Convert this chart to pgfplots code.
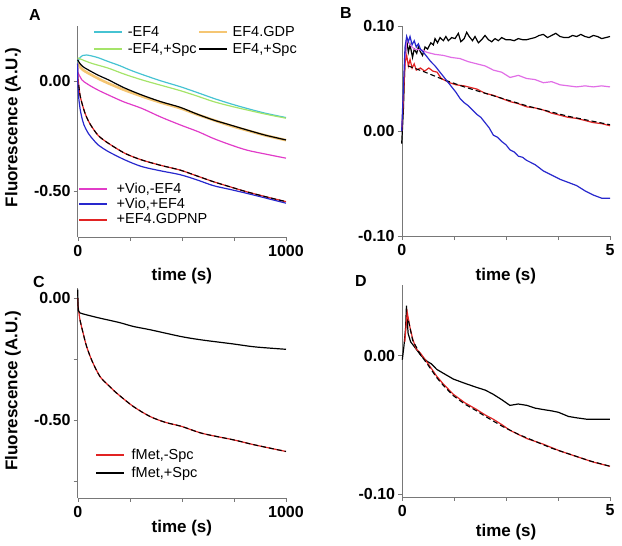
\documentclass[border=0pt]{standalone}
\usepackage{fontspec}
\setmainfont{Liberation Sans}
\usepackage{pgfplots}
\pgfplotsset{compat=1.18}

\definecolor{cyanc}{RGB}{70,195,210}
\definecolor{greenc}{RGB}{165,228,105}
\definecolor{orangec}{RGB}{245,198,115}
\definecolor{magc}{RGB}{225,60,200}
\definecolor{violc}{RGB}{225,110,230}
\definecolor{bluec}{RGB}{40,40,205}
\definecolor{redc}{RGB}{225,35,35}
\definecolor{axc}{RGB}{120,120,120}

\pgfplotsset{
  panel/.style={
    scale only axis, anchor=south west,
    axis lines=left, axis line style={axc, -}, tick style={axc},
    tick align=outside, major tick length=4pt,
    tick label style={font=\fontsize{16}{16}\selectfont\bfseries},
    yticklabel style={inner sep=1pt, xshift=-2pt},
    xticklabel style={inner sep=1pt, yshift=-3pt},
    label style={font=\fontsize{17}{17}\selectfont\bfseries},
    ylabel style={anchor=center, rotate=0},
    xlabel style={anchor=center},
    clip=false,
    every axis plot/.append style={line width=1.2pt},
    legend image code/.code={\draw[#1, line width=2pt] (0pt,0pt) -- (28pt,0pt);},
    legend cell align=left,
  },
  fitline/.style={black, dashed, dash pattern=on 5pt off 3pt, line width=1.1pt},
}

\begin{document}
\begin{tikzpicture}
\useasboundingbox (0,0) rectangle (622pt,-546pt);

% ---------------- A ----------------
\begin{axis}[panel, at={(77.7pt,-237pt)}, width=208.3pt, height=211pt,
  xmin=0, xmax=1000, ymin=-0.711, ymax=0.25,
  xtick={0,250,500,750,1000}, xticklabels={0,,,,1000},
  ytick={0,-0.5}, yticklabels={0.00,-0.50},
  xlabel={time (s)}, xlabel style={at={(axis description cs:0.5,-0.185)}},
  ylabel={Fluorescence (A.U.)}, ylabel style={at={(axis description cs:-0.311,0.52)}},
  legend columns=2,
  legend style={at={(axis description cs:0.074,1.005)}, anchor=north west, draw=none, fill=none,
    inner sep=0pt, font=\fontsize{14.5}{14.5}\selectfont, row sep=2pt,
    nodes={inner sep=1.5pt},
    /tikz/every odd column/.append style={column sep=3pt},
    /tikz/every even column/.append style={column sep=0pt}},
]
\addplot[cyanc, smooth] coordinates {(0,0.085) (10,0.105) (25,0.116) (43,0.118) (70,0.113) (100,0.105) (147,0.088) (200,0.07) (250,0.05) (307,0.03) (400,0.0) (491,-0.026) (580,-0.055) (651,-0.079) (730,-0.103) (811,-0.125) (900,-0.147) (1000,-0.167)};
\addlegendentry{-EF4}
\addplot[orangec, smooth, line width=2.6pt] coordinates {(0,0.08) (10,0.065) (25,0.05) (51,0.035) (100,0.01) (147,-0.011) (220,-0.04) (307,-0.07) (400,-0.099) (491,-0.124) (570,-0.152) (651,-0.178) (730,-0.203) (811,-0.225) (900,-0.248) (1000,-0.27)};
\addlegendentry{EF4.GDP}
\addplot[greenc, smooth] coordinates {(0,0.105) (20,0.097) (67,0.08) (147,0.058) (220,0.032) (307,0.005) (400,-0.02) (491,-0.044) (570,-0.068) (651,-0.094) (730,-0.114) (811,-0.132) (900,-0.151) (1000,-0.17)};
\addlegendentry{-EF4,+Spc}
\addplot[black, smooth] coordinates {(0,0.095) (10,0.08) (25,0.065) (51,0.05) (100,0.025) (147,0.005) (220,-0.03) (307,-0.064) (400,-0.095) (491,-0.12) (570,-0.15) (651,-0.178) (730,-0.2) (811,-0.223) (900,-0.247) (1000,-0.269)};
\addlegendentry{EF4,+Spc}
\addplot[magc, smooth, forget plot] coordinates {(0,0.04) (20,0.005) (40,-0.01) (67,-0.026) (100,-0.043) (147,-0.064) (220,-0.095) (307,-0.125) (400,-0.165) (491,-0.2) (580,-0.232) (651,-0.262) (730,-0.29) (811,-0.315) (900,-0.333) (1000,-0.352)};
\addplot[redc, smooth, forget plot] coordinates {(0,0.06) (0.5,0.03) (2,0.01) (5,-0.02) (11,-0.064) (20,-0.1) (35,-0.147) (50,-0.18) (67,-0.208) (100,-0.25) (147,-0.284) (227,-0.33) (307,-0.36) (400,-0.385) (491,-0.406) (570,-0.432) (651,-0.459) (730,-0.482) (811,-0.505) (900,-0.527) (1000,-0.55)};
\addplot[bluec, smooth, forget plot] coordinates {(0,0.08) (0.5,0.0) (3,-0.05) (6,-0.087) (12,-0.13) (19,-0.163) (30,-0.2) (51,-0.239) (75,-0.268) (99,-0.292) (147,-0.322) (227,-0.36) (307,-0.39) (400,-0.41) (491,-0.427) (570,-0.45) (651,-0.477) (730,-0.494) (811,-0.512) (900,-0.533) (1000,-0.557)};
\addplot[fitline, smooth, forget plot] coordinates {(5,-0.02) (11,-0.064) (20,-0.1) (35,-0.147) (50,-0.18) (67,-0.208) (100,-0.25) (147,-0.284) (227,-0.33) (307,-0.36) (400,-0.385) (491,-0.406) (570,-0.432) (651,-0.459) (730,-0.482) (811,-0.505) (900,-0.527) (1000,-0.55)};
\end{axis}
% second legend of panel A
\begin{axis}[panel, at={(77.7pt,-237pt)}, width=208.3pt, height=211pt, hide axis,
  xmin=0, xmax=1000, ymin=-0.711, ymax=0.25,
  legend style={at={(axis description cs:0.0015,0.265)}, anchor=north west, draw=none, fill=none,
    inner sep=0pt, font=\fontsize{14.5}{14.5}\selectfont, row sep=0.5pt,
    nodes={inner sep=1.5pt},
    /tikz/every odd column/.append style={column sep=7pt}},
]
\addlegendimage{magc}\addlegendentry{+Vio,-EF4}
\addlegendimage{bluec}\addlegendentry{+Vio,+EF4}
\addlegendimage{redc}\addlegendentry{+EF4.GDPNP}
\end{axis}

% ---------------- B ----------------
\begin{axis}[panel, at={(401.7pt,-236pt)}, width=208.3pt, height=210pt,
  xmin=0, xmax=5, ymin=-0.10, ymax=0.10,
  xtick={0,1.25,2.5,3.75,5}, xticklabels={0,,,,5},
  ytick={0.1,0,-0.1}, yticklabels={0.10,0.00,-0.10},
  xlabel={time (s)}, xlabel style={at={(axis description cs:0.5,-0.19)}},
]
\addplot[black] coordinates {(0,-0.012) (0.04,0.02) (0.08,0.07) (0.12,0.087) (0.16,0.075) (0.2,0.082) (0.26,0.07) (0.3,0.078) (0.36,0.074) (0.4,0.08) (0.44,0.076) (0.5,0.072) (0.56,0.08) (0.62,0.078) (0.7,0.084) (0.76,0.082) (0.8,0.088) (0.86,0.084) (0.92,0.089) (1.0,0.086) (1.06,0.09) (1.12,0.086) (1.2,0.089) (1.28,0.088) (1.36,0.093) (1.42,0.085) (1.5,0.088) (1.56,0.094) (1.62,0.09) (1.7,0.086) (1.76,0.09) (1.84,0.084) (1.92,0.087) (2.0,0.091) (2.08,0.087) (2.16,0.085) (2.24,0.088) (2.32,0.086) (2.4,0.089) (2.5,0.087) (2.6,0.087) (2.7,0.086) (2.8,0.088) (2.9,0.087) (3.0,0.087) (3.1,0.088) (3.2,0.089) (3.3,0.091) (3.4,0.092) (3.5,0.089) (3.6,0.091) (3.7,0.093) (3.8,0.09) (3.9,0.089) (4.0,0.089) (4.1,0.091) (4.2,0.09) (4.3,0.092) (4.4,0.09) (4.5,0.089) (4.6,0.091) (4.7,0.09) (4.8,0.088) (4.9,0.089) (5.0,0.09)};
\addplot[violc] coordinates {(0.08,0.06) (0.12,0.088) (0.2,0.082) (0.3,0.078) (0.5,0.077) (0.6,0.075) (0.8,0.073) (1.0,0.072) (1.2,0.07) (1.4,0.069) (1.6,0.066) (1.8,0.064) (2.0,0.062) (2.2,0.058) (2.4,0.056) (2.6,0.051) (2.8,0.053) (3.0,0.05) (3.2,0.049) (3.4,0.046) (3.6,0.047) (3.8,0.044) (4.0,0.043) (4.2,0.042) (4.4,0.043) (4.6,0.042) (4.8,0.043) (5.0,0.042)};
\addplot[redc] coordinates {(0,0.0) (0.04,0.03) (0.08,0.065) (0.12,0.072) (0.16,0.062) (0.2,0.068) (0.25,0.06) (0.3,0.064) (0.35,0.058) (0.45,0.06) (0.55,0.057) (0.65,0.06) (0.75,0.057) (0.85,0.056) (0.95,0.05) (1.05,0.048) (1.15,0.046) (1.3,0.044) (1.5,0.043) (1.7,0.041) (1.8,0.04) (2.0,0.036) (2.2,0.034) (2.4,0.031) (2.6,0.028) (2.8,0.026) (3.0,0.023) (3.2,0.022) (3.4,0.02) (3.6,0.017) (3.8,0.015) (4.0,0.013) (4.2,0.012) (4.4,0.01) (4.6,0.008) (4.8,0.007) (5.0,0.005)};
\addplot[fitline] coordinates {(0.15,0.062) (0.5,0.057) (1.0,0.049) (1.5,0.042) (2.0,0.036) (2.5,0.03) (3.0,0.024) (3.5,0.019) (4.0,0.014) (4.5,0.01) (5.0,0.006)};
\addplot[bluec] coordinates {(0,0.0) (0.04,0.04) (0.08,0.08) (0.12,0.09) (0.16,0.085) (0.2,0.09) (0.25,0.082) (0.3,0.086) (0.35,0.08) (0.4,0.083) (0.45,0.078) (0.5,0.076) (0.6,0.071) (0.7,0.066) (0.8,0.062) (0.9,0.057) (1.0,0.052) (1.1,0.047) (1.2,0.042) (1.3,0.037) (1.4,0.031) (1.5,0.027) (1.6,0.024) (1.7,0.02) (1.8,0.016) (1.9,0.013) (2.0,0.008) (2.1,0.003) (2.2,-0.004) (2.3,-0.006) (2.4,-0.01) (2.5,-0.013) (2.6,-0.018) (2.7,-0.02) (2.8,-0.024) (2.9,-0.025) (3.0,-0.028) (3.2,-0.032) (3.4,-0.038) (3.6,-0.042) (3.8,-0.046) (4.0,-0.049) (4.2,-0.052) (4.4,-0.057) (4.6,-0.061) (4.8,-0.064) (5.0,-0.064)};
\end{axis}

% ---------------- C ----------------
\begin{axis}[panel, at={(77.7pt,-497.7pt)}, width=208.3pt, height=209.7pt,
  xmin=0, xmax=1000, ymin=-0.82, ymax=0.042,
  xtick={0,250,500,750,1000}, xticklabels={0,,,,1000},
  ytick={0,-0.25,-0.5,-0.75}, yticklabels={0.00,,-0.50,},
  xlabel={time (s)}, xlabel style={at={(axis description cs:0.5,-0.146)}},
  ylabel={Fluorescence (A.U.)}, ylabel style={at={(axis description cs:-0.311,0.51)}},
  legend style={at={(axis description cs:0.083,0.24)}, anchor=north west, draw=none, fill=none,
    inner sep=0pt, font=\fontsize{14.5}{14.5}\selectfont, row sep=3pt,
    nodes={inner sep=1.5pt},
    /tikz/every odd column/.append style={column sep=5pt}},
]
\addplot[redc, smooth] coordinates {(0,0.0) (3,-0.04) (11,-0.089) (25,-0.14) (43,-0.199) (70,-0.26) (107,-0.322) (150,-0.36) (187,-0.39) (267,-0.445) (347,-0.486) (420,-0.51) (499,-0.527) (600,-0.556) (747,-0.582) (850,-0.603) (1000,-0.63)};
\addlegendentry{fMet,-Spc}
\addplot[black, smooth] coordinates {(0,0.035) (1,0.0) (3,-0.05) (10,-0.06) (50,-0.07) (107,-0.082) (200,-0.1) (267,-0.116) (350,-0.13) (499,-0.158) (600,-0.172) (747,-0.188) (850,-0.2) (1000,-0.21)};
\addlegendentry{fMet,+Spc}
\addplot[fitline, smooth, forget plot] coordinates {(11,-0.089) (25,-0.14) (43,-0.199) (70,-0.26) (107,-0.322) (150,-0.36) (187,-0.39) (267,-0.445) (347,-0.486) (420,-0.51) (499,-0.527) (600,-0.556) (747,-0.582) (850,-0.603) (1000,-0.63)};
\end{axis}

% ---------------- D ----------------
\begin{axis}[panel, at={(402.3pt,-496.7pt)}, width=207.7pt, height=211.7pt,
  xmin=0, xmax=5, ymin=-0.102, ymax=0.051,
  xtick={0,1.25,2.5,3.75,5}, xticklabels={0,,,,5},
  ytick={0,-0.1}, yticklabels={0.00,-0.10},
  xlabel={time (s)}, xlabel style={at={(axis description cs:0.5,-0.165)}},
]
\addplot[black] coordinates {(0,-0.003) (0.04,0.007) (0.08,0.02) (0.1,0.036) (0.12,0.025) (0.14,0.016) (0.2,0.01) (0.35,0.004) (0.45,0.0) (0.59,-0.004) (0.7,-0.006) (0.83,-0.01) (1.0,-0.013) (1.23,-0.017) (1.5,-0.02) (1.79,-0.023) (2.0,-0.025) (2.19,-0.028) (2.4,-0.032) (2.59,-0.036) (2.79,-0.035) (3.0,-0.036) (3.2,-0.038) (3.39,-0.039) (3.6,-0.04) (3.76,-0.041) (4.0,-0.044) (4.2,-0.045) (4.44,-0.046) (4.7,-0.046) (5.0,-0.046)};
\addplot[redc] coordinates {(0.06,0.01) (0.1,0.025) (0.12,0.031) (0.15,0.026) (0.18,0.021) (0.25,0.012) (0.33,0.005) (0.43,0.002) (0.6,-0.005) (0.83,-0.015) (1.0,-0.021) (1.23,-0.028) (1.5,-0.034) (1.79,-0.039) (2.0,-0.043) (2.19,-0.046) (2.4,-0.05) (2.59,-0.054) (3.0,-0.06) (3.39,-0.064) (3.8,-0.069) (4.2,-0.073) (4.6,-0.077) (5.0,-0.08)};
\addplot[fitline] coordinates {(0.15,0.025) (0.25,0.011) (0.43,0.001) (0.6,-0.006) (0.83,-0.016) (1.0,-0.022) (1.23,-0.029) (1.5,-0.035) (1.79,-0.04) (2.0,-0.044) (2.4,-0.051) (2.8,-0.057) (3.2,-0.062) (3.6,-0.067) (4.0,-0.071) (4.5,-0.076) (5.0,-0.08)};
\end{axis}

% panel letters
\node[font=\fontsize{16}{16}\selectfont\bfseries] at (35pt,-15pt) {A};
\node[font=\fontsize{16}{16}\selectfont\bfseries] at (346pt,-13pt) {B};
\node[font=\fontsize{16}{16}\selectfont\bfseries] at (39pt,-282pt) {C};
\node[font=\fontsize{16}{16}\selectfont\bfseries] at (361pt,-281pt) {D};
\end{tikzpicture}
\end{document}
